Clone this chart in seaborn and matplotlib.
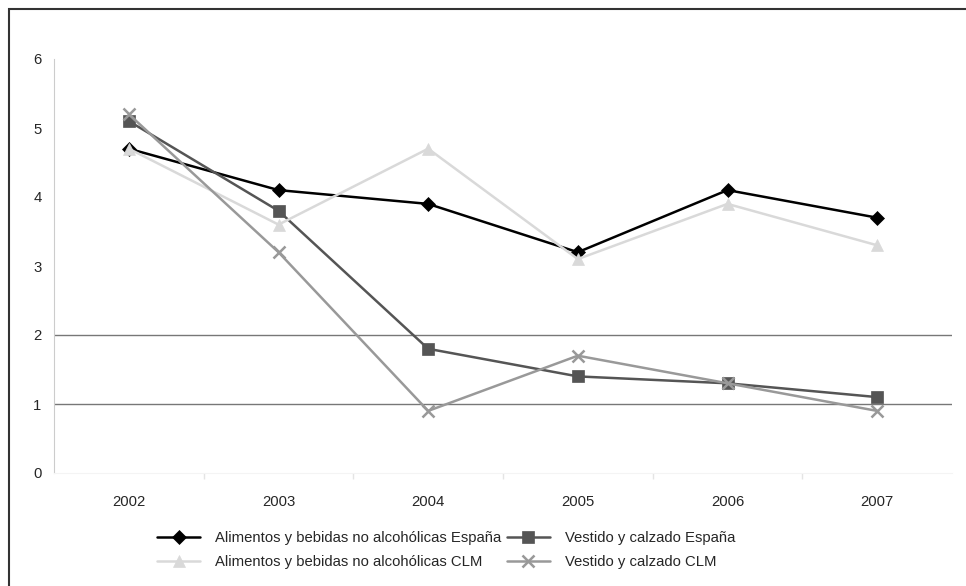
import numpy as np
import pandas as pd
import matplotlib.pyplot as plt
import matplotlib.patches as mpatches
import seaborn as sns

years = [2002, 2003, 2004, 2005, 2006, 2007]
alim_espana = [4.7, 4.1, 3.9, 3.2, 4.1, 3.7]
vest_espana = [5.1, 3.8, 1.8, 1.4, 1.3, 1.1]
alim_clm = [4.7, 3.6, 4.7, 3.1, 3.9, 3.3]
vest_clm = [5.2, 3.2, 0.9, 1.7, 1.3, 0.9]

labels = ["Alimentos y bebidas no alcohólicas España",
          "Vestido y calzado España",
          "Alimentos y bebidas no alcohólicas CLM",
          "Vestido y calzado CLM"]

sns.set_style("white")
plt.rcParams['font.family'] = ['Liberation Sans', 'DejaVu Sans']

fig = plt.figure(figsize=(9.66, 5.86), dpi=100)
ax = fig.add_axes([54 / 966, 1 - 473 / 586, (952 - 54) / 966, (473 - 59) / 586])

# only two reference lines like the original
for yv in [1, 2]:
    ax.axhline(yv, color='#777777', lw=1.0, zorder=1)

series = [alim_espana, vest_espana, alim_clm, vest_clm]
colors = ['#000000', '#555555', '#d9d9d9', '#999999']
markers = ['D', 's', '^', 'x']
msizes = [7, 9, 9, 9]

for vals, lab, c, m, ms in zip(series, labels, colors, markers, msizes):
    df = pd.DataFrame({"year": years, "val": vals})
    sns.lineplot(data=df, x="year", y="val", ax=ax, color=c, marker=m, markersize=ms,
                 markeredgecolor=c, markeredgewidth=1.8 if m == 'x' else 0.5,
                 lw=1.8, label=lab, zorder=3)

ax.set_xlim(2001.5, 2007.5)
ax.set_ylim(0, 6)
ax.set_xticks(years)
ax.set_xticklabels([str(y) for y in years])
ax.set_xticks([y + 0.5 for y in years[:-1]], minor=True)
ax.set_yticks(range(0, 7))
ax.tick_params(axis='x', which='major', length=0, pad=16, labelsize=10.7)
ax.tick_params(axis='x', which='minor', bottom=True, length=4, color='#e4e4e4', width=1)
ax.tick_params(axis='y', length=0, pad=9, labelsize=10.7)
ax.set_xlabel("")
ax.set_ylabel("")
for s in ['top', 'right']:
    ax.spines[s].set_visible(False)
ax.spines['left'].set_color('#cccccc')
ax.spines['bottom'].set_color('#f4f4f4')

h, l = ax.get_legend_handles_labels()
ax.get_legend().remove()
order = [0, 2, 1, 3]
fig.legend([h[i] for i in order], [l[i] for i in order], ncol=2, frameon=False,
           loc='center left', bbox_to_anchor=(144 / 966, 1 - 550 / 586),
           fontsize=10.7, handlelength=2.9, handletextpad=1.0, columnspacing=0.35,
           labelspacing=0.65)

# outer frame (right and bottom edges fall outside the image)
fig.patches.append(mpatches.Rectangle((9 / 966, -0.05), 1.0, 1 - 9 / 586 + 0.05,
                                      transform=fig.transFigure, fill=False,
                                      edgecolor='#333333', lw=1.5))

fig.savefig("out.png", dpi=100)
